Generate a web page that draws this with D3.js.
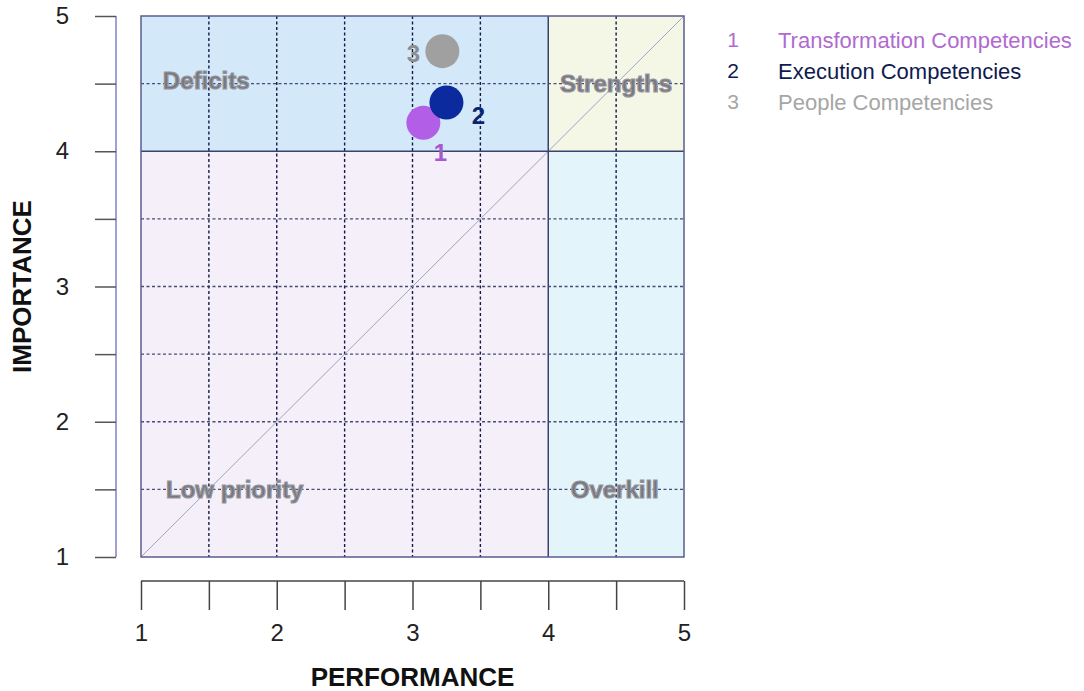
<!DOCTYPE html>
<html><head><meta charset="utf-8">
<script src="https://cdn.jsdelivr.net/npm/d3@7"></script>
<style>body{margin:0;background:#fff;font-family:"Liberation Sans",Arial,sans-serif;}</style>
</head><body>
<svg id="chart" width="1084" height="691"></svg>
<script>
// ---- data ----
const ids = ["1", "2", "3"];
const names = ["Transformation Competencies", "Execution Competencies", "People Competencies"];
const performance = [3.08, 3.25, 3.22];
const importance = [4.21, 4.36, 4.74];
const pointColors = ["#b25ee6", "#0a2a9e", "#a0a0a0"];
const labelColors = ["#a55ad0", "#0c2470", "#8c8c8c"];
const legendColors = ["#b06ad0", "#0e1a50", "#a6a6a6"];
const ticks = [1, 2, 3, 4, 5];
const minorTicks = [1, 1.5, 2, 2.5, 3, 3.5, 4, 4.5, 5];
const quadrants = [
  {name: "Deficits", x0: 1, x1: 4, y0: 4, y1: 5, fill: "#d3e8f8", lx: 1.48, ly: 4.52},
  {name: "Strengths", x0: 4, x1: 5, y0: 4, y1: 5, fill: "#f5f7e6", lx: 4.5, ly: 4.5},
  {name: "Low priority", x0: 1, x1: 4, y0: 1, y1: 4, fill: "#f4eff8", lx: 1.69, ly: 1.5},
  {name: "Overkill", x0: 4, x1: 5, y0: 1, y1: 4, fill: "#e3f5fb", lx: 4.49, ly: 1.5}
];

const svg = d3.select("#chart");
const x = d3.scaleLinear().domain([1, 5]).range([141, 684]);
const y = d3.scaleLinear().domain([1, 5]).range([557, 16]);

// quadrants
svg.selectAll("rect.q").data(quadrants).enter().append("rect")
  .attr("x", d => x(d.x0)).attr("y", d => y(d.y1))
  .attr("width", d => x(d.x1) - x(d.x0)).attr("height", d => y(d.y0) - y(d.y1))
  .attr("fill", d => d.fill);

// dashed grid
const gridVals = [1.5, 2, 2.5, 3, 3.5, 4.5];
svg.selectAll("line.gv").data(gridVals).enter().append("line")
  .attr("x1", d => x(d)).attr("x2", d => x(d)).attr("y1", y(5)).attr("y2", y(1))
  .attr("stroke", "#141a48").attr("stroke-width", 1.4).attr("stroke-dasharray", "3,2.5");
svg.selectAll("line.gh").data(gridVals).enter().append("line")
  .attr("y1", d => y(d)).attr("y2", d => y(d)).attr("x1", x(1)).attr("x2", x(5))
  .attr("stroke", "#2a3060").attr("stroke-width", 1.4).attr("stroke-dasharray", "3,2.5").attr("opacity", 0.85);

// diagonal
svg.append("line").attr("x1", x(1)).attr("y1", y(1)).attr("x2", x(5)).attr("y2", y(5))
  .attr("stroke", "#9aa6c8").attr("stroke-width", 1);

// quadrant dividers
svg.append("line").attr("x1", x(4)).attr("x2", x(4)).attr("y1", y(5)).attr("y2", y(1))
  .attr("stroke", "#3c4270").attr("stroke-width", 1.5);
svg.append("line").attr("x1", x(1)).attr("x2", x(5)).attr("y1", y(4)).attr("y2", y(4))
  .attr("stroke", "#3c4270").attr("stroke-width", 1.5);

// border
svg.append("rect").attr("x", x(1)).attr("y", y(5)).attr("width", x(5) - x(1)).attr("height", y(1) - y(5))
  .attr("fill", "none").attr("stroke", "#5a5c90").attr("stroke-width", 1.5);

// quadrant labels
svg.selectAll("text.ql").data(quadrants).enter().append("text")
  .attr("x", d => x(d.lx)).attr("y", d => y(d.ly)).attr("dy", "0.35em")
  .attr("text-anchor", "middle").attr("font-size", 24).attr("font-weight", "bold")
  .attr("fill", "#76767e").attr("stroke", "#96969e").attr("stroke-width", 1.2)
  .text(d => d.name);

// points
svg.selectAll("circle.p").data(ids).enter().append("circle")
  .attr("cx", (d, i) => x(performance[i])).attr("cy", (d, i) => y(importance[i]))
  .attr("r", 17).attr("fill", (d, i) => pointColors[i]);

// point labels
const lblOff = [[17, 30], [32, 13], [-29, 2]];
svg.selectAll("text.pl").data(ids).enter().append("text")
  .attr("x", (d, i) => x(performance[i]) + lblOff[i][0]).attr("y", (d, i) => y(importance[i]) + lblOff[i][1])
  .attr("dy", "0.35em").attr("text-anchor", "middle").attr("font-size", 24).attr("font-weight", "bold")
  .attr("fill", (d, i) => labelColors[i]).text(d => d);

// y axis
const yAxis = d3.axisLeft(y).tickValues(minorTicks).tickSize(21).tickFormat(d => ticks.includes(d) ? d : "");
const gy = svg.append("g").attr("transform", "translate(116,0)").call(yAxis);
gy.select(".domain").attr("stroke", "#8080c4").attr("stroke-width", 1.5).attr("d", `M0,${y(5)}V${y(1)}`);
gy.selectAll(".tick line").attr("stroke", "#555").attr("stroke-width", 1.5);
gy.selectAll(".tick text").attr("font-size", 24).attr("fill", "#222").attr("x", -47)
  .attr("font-family", "Liberation Sans, Arial, sans-serif");

// x axis
const xAxis = d3.axisBottom(x).tickValues(minorTicks).tickSize(0).tickFormat(d => ticks.includes(d) ? d : "");
const gx = svg.append("g").attr("transform", "translate(0,581)").call(xAxis);
gx.select(".domain").attr("stroke", "#444").attr("stroke-width", 1.5).attr("d", `M${x(1)},0H${x(5)}`);
gx.selectAll(".tick line").attr("y2", 29).attr("stroke", "#444").attr("stroke-width", 1.5);
gx.selectAll(".tick text").attr("font-size", 24).attr("fill", "#222").attr("y", 43)
  .attr("font-family", "Liberation Sans, Arial, sans-serif");

// axis titles
svg.append("text").attr("x", x(3)).attr("y", 677).attr("dy", "0.35em").attr("text-anchor", "middle")
  .attr("font-size", 26).attr("font-weight", "bold").attr("fill", "#111").text("PERFORMANCE");
svg.append("text").attr("transform", `translate(22,${y(3)}) rotate(-90)`).attr("dy", "0.35em")
  .attr("text-anchor", "middle").attr("font-size", 26).attr("font-weight", "bold").attr("fill", "#111")
  .text("IMPORTANCE");

// legend
const leg = svg.selectAll("g.leg").data(ids).enter().append("g")
  .attr("transform", (d, i) => `translate(0,${40 + i * 31})`);
leg.append("text").attr("x", 733).attr("dy", "0.35em").attr("text-anchor", "middle")
  .attr("font-size", 21).attr("fill", (d, i) => legendColors[i]).text(d => d);
leg.append("text").attr("x", 778).attr("dy", "0.35em")
  .attr("font-size", 22).attr("fill", (d, i) => legendColors[i]).text((d, i) => names[i]);
</script>
</body></html>
